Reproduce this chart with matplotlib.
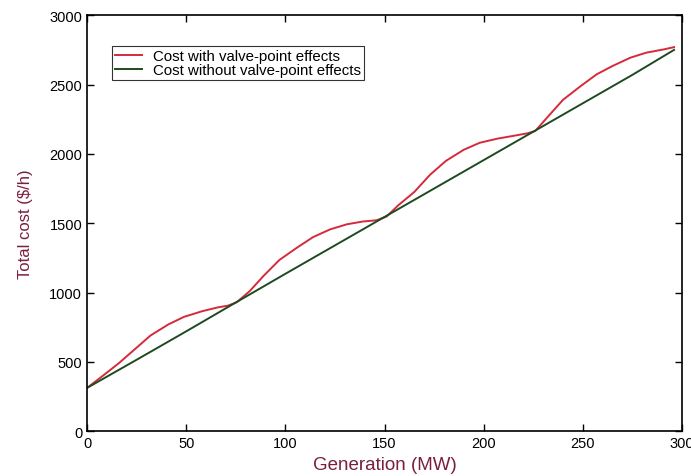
import matplotlib
matplotlib.use("Agg")
import matplotlib.pyplot as plt

plt.rcParams['font.family'] = ['Liberation Sans', 'DejaVu Sans']

# Cost with valve-point effects
p_valve = [0, 8, 16, 24, 32, 41, 49, 58, 66, 71, 75.5,
           82, 89, 97, 106, 114, 122.5, 131, 139, 146, 151,
           157, 165, 173, 181, 190, 198, 207, 215, 222, 226,
           232, 240, 249, 257, 265, 274, 282, 291, 296]
c_valve = [312, 400, 490, 590, 690, 770, 825, 865, 893, 905, 930,
           1010, 1120, 1235, 1325, 1400, 1455, 1492, 1512, 1521, 1548,
           1630, 1725, 1850, 1950, 2030, 2080, 2110, 2130, 2148, 2165,
           2262, 2390, 2490, 2574, 2634, 2694, 2730, 2754, 2770]

# Cost without valve-point effects
p_smooth = [0, 25, 50, 75, 100, 125, 150, 175, 200, 225, 250, 275, 296]
c_smooth = [312, 515, 720, 928, 1135, 1340, 1545, 1750, 1955, 2160, 2365, 2570, 2750]

label_valve = "Cost with valve-point effects"
label_smooth = "Cost without valve-point effects"

fig = plt.figure(figsize=(6.91, 4.77), dpi=100)
ax = fig.add_axes([0.126, 0.094, 0.861, 0.872])

ax.plot(p_valve, c_valve, color='#d42a3c', lw=1.4, label=label_valve)
ax.plot(p_smooth, c_smooth, color='#1e4a20', lw=1.4, label=label_smooth)

ax.set_xlim(0, 300)
ax.set_ylim(0, 3000)
ax.set_xticks(range(0, 301, 50))
ax.set_yticks(range(0, 3001, 500))
ax.tick_params(direction='in', top=True, right=True, length=5, width=1,
               labelsize=10.5, colors='black')
for s in ax.spines.values():
    s.set_linewidth(1.2)

ax.set_xlabel("Generation (MW)", fontsize=13.5, color='#7a1f3d', labelpad=4)
ax.set_ylabel("Total cost ($/h)", fontsize=12, color='#7a1f3d', labelpad=12)

leg = ax.legend(loc='upper left', bbox_to_anchor=(0.042, 0.925), fontsize=10.8,
                frameon=True, fancybox=False, edgecolor='black',
                borderpad=0.2, labelspacing=0.0, handlelength=1.8,
                handletextpad=0.7, borderaxespad=0)
leg.get_frame().set_linewidth(0.8)

fig.savefig("out.png", dpi=100)
